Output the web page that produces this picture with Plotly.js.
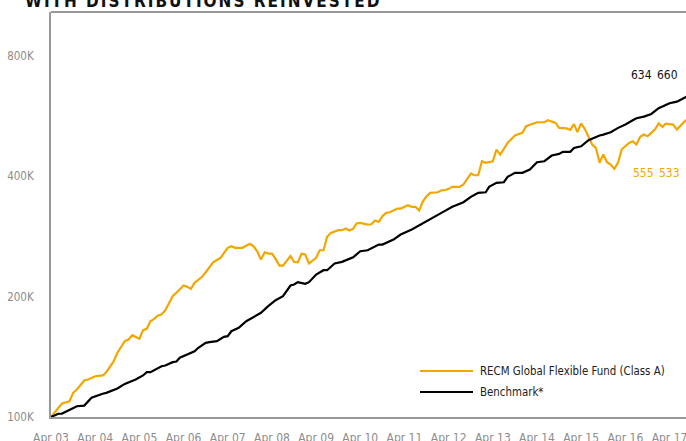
<!DOCTYPE html>
<html>
<head>
<meta charset="utf-8">
<script src="https://cdn.plot.ly/plotly-3.0.1.min.js"></script>
<style>
  html, body { margin: 0; padding: 0; background: #fff; overflow: hidden; }
  #chart { width: 686px; height: 441px; }
  .gtitle { letter-spacing: 2px; }
</style>
</head>
<body>
<div id="chart"></div>
<script>
// Growth of R100 000, month offsets counted from Apr 2003
var fundName = 'RECM Global Flexible Fund (Class A)';
var benchName = 'Benchmark*';

var fundMonths = [
  0, 3, 5, 6, 7, 9, 10, 12, 14, 15,
  17, 18, 20, 21, 22, 24, 25, 26, 27, 28,
  29, 30, 31, 33, 34, 36, 37, 38, 39, 41,
  42, 43, 44, 46, 48, 49, 50, 52, 54, 55,
  56, 57, 58, 59, 60, 61, 62, 63, 65, 66,
  67, 68, 69, 70, 72, 73, 74, 75, 76, 78,
  79, 80, 81, 82, 83, 84, 86, 87, 88, 89,
  90, 91, 92, 94, 95, 97, 98, 99, 100, 101,
  102, 103, 105, 106, 107, 108, 109, 111, 112, 114,
  115, 116, 117, 118, 120, 121, 122, 124, 126, 128,
  129, 132, 134, 135, 137, 138, 140, 141, 142, 143,
  144, 145, 146, 147, 148, 149, 150, 151, 152, 153,
  154, 155, 157, 158, 159, 160, 161, 162, 163, 164,
  165, 166, 167, 169, 170, 172, 173
];
var fundValues = [
  100000, 108100, 109500, 114900, 117100, 123400, 124100, 126400, 127000, 129400,
  137900, 144700, 154700, 156200, 160100, 156800, 164800, 166100, 173500, 175900,
  179300, 180300, 184800, 200400, 204300, 213100, 211500, 209000, 216400, 224000,
  230000, 237300, 243600, 249900, 264700, 267100, 264700, 264700, 270800, 267100,
  259500, 247400, 258000, 256100, 256100, 248400, 239000, 239000, 252500, 243900,
  243600, 255700, 254700, 241800, 249900, 261000, 261000, 282000, 288500, 292900,
  292900, 295700, 292400, 295200, 304400, 305600, 302600, 303100, 309700, 307400,
  317400, 323700, 324800, 331800, 331800, 338200, 335100, 335100, 328000, 346000,
  356100, 363200, 364400, 368600, 368600, 371600, 375900, 375900, 380900, 405800,
  401900, 401900, 435600, 431600, 435600, 465900, 452700, 484200, 505000, 512900,
  532700, 545100, 545100, 551400, 543200, 527800, 526300, 521800, 539500, 515200,
  541100, 524800, 502900, 479500, 470400, 431600, 452700, 433000, 427300, 416900,
  433000, 465900, 484200, 488700, 479500, 501200, 507800, 502900, 512900, 522600,
  541100, 530800, 541100, 538000, 522600, 547000, 555533
];

var benchMonths = [
  0, 2, 3, 5, 7, 9, 11, 14, 15, 18,
  20, 23, 25, 26, 27, 30, 31, 33, 34, 35,
  39, 40, 42, 43, 45, 47, 48, 49, 51, 53,
  57, 59, 61, 63, 65, 66, 67, 69, 70, 72,
  74, 75, 77, 79, 82, 84, 86, 89, 90, 93,
  95, 98, 101, 103, 106, 109, 112, 114, 116, 118,
  119, 121, 123, 124, 126, 128, 130, 132, 134, 136,
  138, 139, 141, 142, 144, 146, 148, 149, 150, 152,
  154, 156, 158, 159, 161, 163, 165, 168, 170, 172,
  173
];
var benchValues = [
  100000, 101900, 102000, 104400, 106400, 106800, 111700, 114300, 114900, 117800,
  121000, 124100, 127000, 129400, 129400, 133900, 134500, 137100, 137600, 140600,
  146000, 148900, 153200, 153800, 154700, 158600, 159200, 163800, 167100, 173500,
  182100, 189200, 195800, 200400, 213100, 214300, 217200, 215200, 217200, 227000,
  232700, 232700, 241800, 244200, 250700, 259500, 261000, 269700, 269700, 277600,
  285700, 294100, 304400, 312700, 323700, 335100, 344100, 354900, 363200, 364400,
  375900, 384700, 386000, 398200, 407400, 407400, 415200, 433000, 435600, 450100,
  454500, 459800, 459800, 470400, 474800, 491500, 501200, 505000, 507800, 514700,
  527800, 538000, 551400, 557900, 563100, 571900, 590900, 608200, 613800, 628100,
  634660
];

var tickYears = [2003, 2004, 2005, 2006, 2007, 2008, 2009, 2010, 2011, 2012, 2013, 2014, 2015, 2016, 2017];
var yTickVals = [100000, 200000, 400000, 800000];
var yTickText = ['100K', '200K', '400K', '800K'];

var GOLD = '#F2A700';
var AXIS = '#999999';
var LABEL = '#8c8c8c';
var FONT = '"DejaVu Sans Condensed", "Liberation Sans Narrow", sans-serif';

function monthDate(m) {
  var y = 2003 + Math.floor((3 + m) / 12);
  var mo = (3 + m) % 12 + 1;
  return y + '-' + (mo < 10 ? '0' : '') + mo + '-01';
}
function fmt(v) {
  return String(v).replace(/\B(?=(\d{3})+(?!\d))/g, '\u2002');
}

// plot box in pixels, used to place the legend and end labels
var L = 51, T = 12, W = 635, H = 405;
function px(x) { return (x - L) / W; }
function py(y) { return (T + H - y) / H; }

var traces = [
  { x: fundMonths.map(monthDate), y: fundValues, mode: 'lines', name: fundName,
    line: {color: GOLD, width: 2.2}, showlegend: false },
  { x: benchMonths.map(monthDate), y: benchValues, mode: 'lines', name: benchName,
    line: {color: '#000', width: 2.2}, showlegend: false }
];

var annotations = [
  // end values
  { xref: 'paper', yref: 'paper', x: px(654), y: py(75), xanchor: 'center', yanchor: 'middle',
    text: fmt(benchValues[benchValues.length - 1]),
    showarrow: false, font: {family: FONT, size: 12, color: '#111'} },
  { xref: 'paper', yref: 'paper', x: px(656), y: py(173), xanchor: 'center', yanchor: 'middle',
    text: fmt(fundValues[fundValues.length - 1]),
    showarrow: false, font: {family: FONT, size: 12, color: GOLD} },
  // legend text
  { xref: 'paper', yref: 'paper', x: px(478), y: py(371), xanchor: 'left', yanchor: 'middle',
    text: fundName, showarrow: false, font: {family: FONT, size: 11.4, color: '#222'} },
  { xref: 'paper', yref: 'paper', x: px(478), y: py(392), xanchor: 'left', yanchor: 'middle',
    text: benchName, showarrow: false, font: {family: FONT, size: 11.4, color: '#222'} }
];

var shapes = [
  // top frame line
  { type: 'line', xref: 'paper', yref: 'paper', x0: 0, x1: 1.05, y0: 1, y1: 1,
    line: {color: AXIS, width: 2} },
  // legend samples
  { type: 'line', xref: 'paper', yref: 'paper', x0: px(420), x1: px(473), y0: py(371), y1: py(371),
    line: {color: GOLD, width: 2} },
  { type: 'line', xref: 'paper', yref: 'paper', x0: px(420), x1: px(473), y0: py(392), y1: py(392),
    line: {color: '#000', width: 2} }
];

var layout = {
  width: 686, height: 441,
  margin: {l: L, r: 686 - L - W, t: T, b: 441 - T - H},
  paper_bgcolor: '#fff', plot_bgcolor: '#fff',
  showlegend: false,
  title: { text: '<b>WITH DISTRIBUTIONS REINVESTED</b>', xref: 'container', yref: 'container',
           x: 25 / 686, xanchor: 'left', y: 1 - 1 / 441, yanchor: 'middle',
           font: {family: FONT, size: 17, color: '#111'} },
  xaxis: {
    type: 'date', range: ['2003-04-01', '2017-08-15'],
    tickvals: tickYears.map(function (y) { return y + '-04-01'; }),
    ticktext: tickYears.map(function (y) { return 'Apr ' + String(y).slice(2); }),
    showgrid: false, zeroline: false, showline: true, linecolor: AXIS, linewidth: 2,
    ticks: '', ticklabelstandoff: 9, ticklabeloverflow: 'allow',
    tickfont: {family: FONT, size: 12, color: LABEL}
  },
  yaxis: {
    type: 'log', range: [5, 6.012],
    tickvals: yTickVals, ticktext: yTickText,
    showgrid: false, zeroline: false, showline: true, linecolor: AXIS, linewidth: 2,
    ticks: '', ticklabelstandoff: 13,
    tickfont: {family: FONT, size: 11.5, color: LABEL}
  },
  annotations: annotations,
  shapes: shapes
};

Plotly.newPlot('chart', traces, layout, {displayModeBar: false, staticPlot: true});
</script>
</body>
</html>
